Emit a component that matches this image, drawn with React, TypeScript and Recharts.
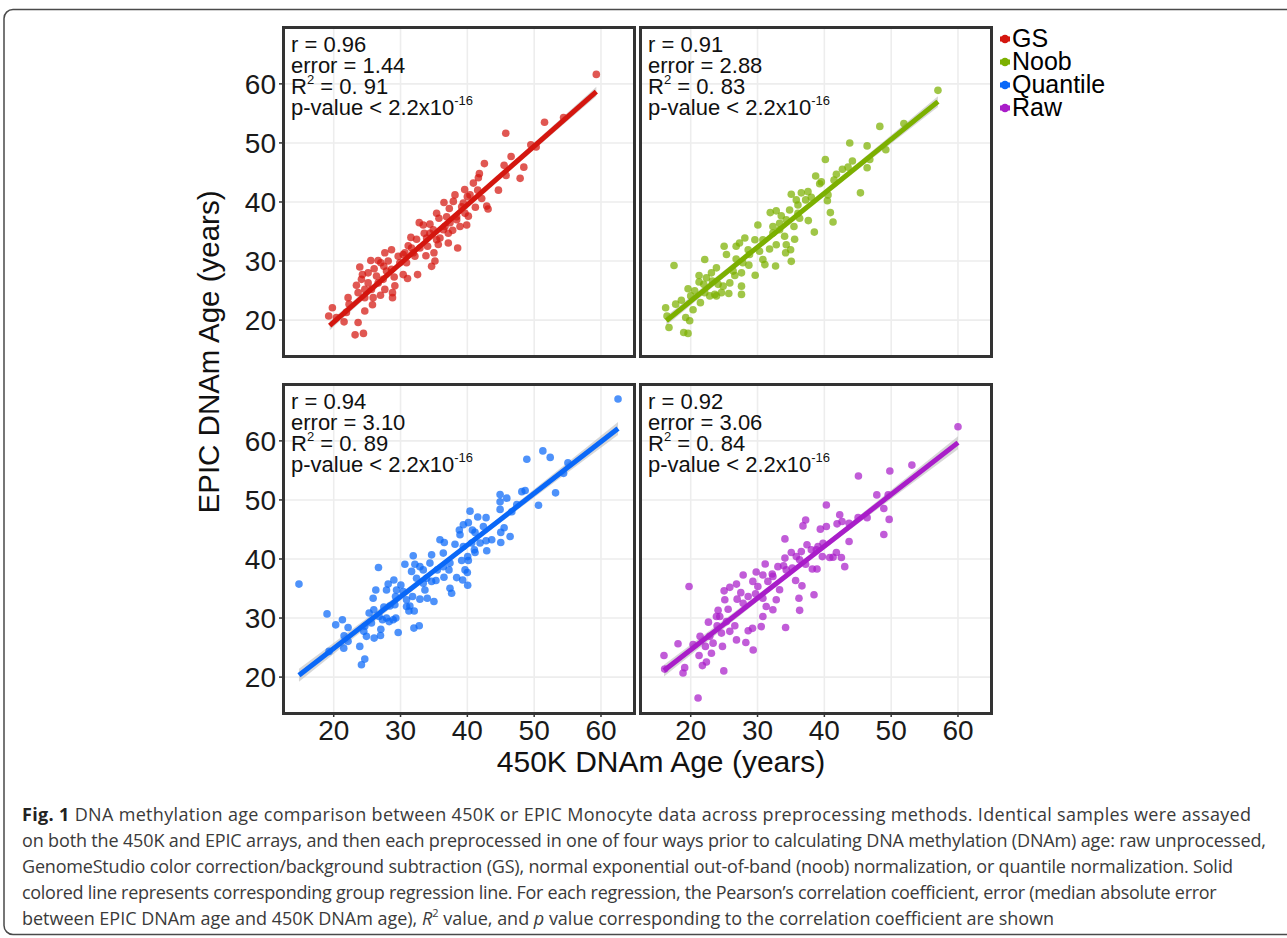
import React from "react";
import { ComposedChart, Scatter, Line, Area, XAxis, YAxis, CartesianGrid } from "recharts";

// axis settings shared by all four facets
const xTicks = [20, 30, 40, 50, 60];
const yTicks = [20, 30, 40, 50, 60];
const xDomain = [12.41, 64.94];
const yDomain = [13.92, 69.63];

const methods = ["GS", "Noob", "Quantile", "Raw"];
const methodColors = ["#d4160f", "#7cb000", "#0a68f8", "#a91dc9"];

const rValues = ["0.96", "0.91", "0.94", "0.92"];
const errorValues = ["1.44", "2.88", "3.10", "3.06"];
const r2Values = ["0. 91", "0. 83", "0. 89", "0. 84"];

// [450K age, EPIC age]
const gsPoints = [
  [59.3, 61.6], [51.55, 53.5], [45.75, 51.65], [54.4, 54.3], [49.5, 49.7], [50.3, 49.3], [46.55, 47.7],
  [42.55, 46.5], [45.5, 46.2], [48.45, 45.9], [47.9, 44.0], [45.8, 44.5], [41.8, 44.8], [41.65, 44.1],
  [40.9, 43.2], [39.6, 42.1], [40.4, 41.2], [41.55, 42.0], [44.65, 42.0], [38.15, 41.2], [36.5, 39.9],
  [37.9, 40.1], [39.4, 39.8], [42.15, 40.6], [41.2, 39.1], [42.9, 39.3], [43.1, 38.8], [37.3, 38.9],
  [35.4, 38.1], [35.75, 37.25], [36.9, 37.5], [38.4, 37.0], [39.65, 38.1], [39.9, 36.1], [32.8, 36.5],
  [34.4, 36.25], [36.65, 35.85], [37.8, 35.2], [34.9, 35.3], [33.55, 34.7], [31.55, 34.0], [32.4, 33.7],
  [33.9, 33.9], [35.9, 33.9], [37.15, 34.7], [31.15, 32.6], [34.05, 32.5], [35.65, 32.8], [37.15, 33.05],
  [38.55, 32.2], [30.4, 31.1], [32.15, 30.8], [33.8, 30.9], [35.0, 31.4], [35.15, 30.0], [34.65, 29.1],
  [32.55, 27.7], [31.05, 27.05], [30.4, 27.7], [29.05, 27.3], [28.65, 28.6], [28.65, 31.9], [27.65, 31.4],
  [28.15, 30.0], [29.15, 25.8], [27.5, 29.1], [26.65, 30.1], [25.55, 30.1], [26.05, 28.7], [26.4, 27.45],
  [25.15, 26.3], [24.15, 26.9], [23.9, 29.0], [23.4, 25.9], [23.65, 24.65], [24.65, 23.8], [25.9, 23.8],
  [25.8, 22.6], [27.0, 24.2], [27.65, 25.2], [28.8, 24.65], [28.8, 23.8], [22.15, 23.8], [22.3, 22.7],
  [21.9, 21.3], [19.8, 22.1], [19.25, 20.7], [20.4, 20.45], [21.55, 19.7], [23.65, 19.6], [24.65, 21.55],
  [23.2, 17.5], [24.45, 17.75], [26.65, 26.3], [27.4, 26.9], [27.9, 28.3], [29.9, 29.7], [30.9, 29.7],
  [31.9, 31.4], [32.9, 32.2], [31.65, 32.2], [34.4, 34.7], [35.4, 33.6], [36.4, 35.3], [38.9, 35.85],
  [37.4, 36.5], [33.4, 36.1], [39.15, 39.2], [40.0, 40.9], [38.4, 37.5], [40.15, 37.6], [30.65, 31.4],
  [29.65, 30.8], [25.65, 25.2], [24.65, 25.2], [24.3, 27.7], [25.15, 28.0], [27.05, 29.7],
];

const noobPoints = [
  [57.0, 58.9], [48.3, 52.8], [51.9, 53.3], [43.8, 50.0], [46.4, 49.5], [49.2, 48.85], [40.15, 47.2],
  [44.2, 46.95], [46.8, 47.2], [42.7, 45.55], [43.55, 45.9], [46.4, 45.8], [38.7, 44.4], [39.3, 43.1],
  [41.45, 43.7], [45.4, 41.55], [40.45, 40.2], [35.05, 41.3], [36.55, 41.55], [37.55, 41.75], [35.8, 40.35],
  [36.05, 39.5], [34.8, 38.65], [31.9, 38.2], [32.8, 38.5], [33.55, 37.65], [34.3, 37.0], [36.3, 37.25],
  [40.9, 38.2], [41.3, 36.6], [37.6, 36.85], [38.5, 34.9], [35.45, 35.85], [32.3, 35.85], [33.3, 35.3],
  [34.05, 34.2], [35.55, 33.7], [34.3, 32.75], [34.95, 31.9], [32.8, 32.75], [31.8, 32.05], [30.05, 36.1],
  [29.6, 33.6], [28.1, 33.9], [27.3, 33.05], [26.8, 32.5], [28.6, 31.9], [30.3, 31.65], [30.8, 30.25],
  [31.1, 29.4], [32.7, 29.15], [34.2, 31.4], [35.05, 29.95], [25.0, 32.5], [25.35, 31.1], [22.1, 30.25],
  [26.8, 30.35], [27.8, 29.7], [28.7, 29.3], [29.65, 27.6], [27.6, 28.0], [26.6, 27.55], [25.85, 26.3],
  [23.85, 28.85], [23.1, 28.0], [22.35, 27.15], [21.25, 27.55], [21.25, 26.45], [21.95, 26.05], [23.25, 26.6],
  [24.1, 26.05], [24.6, 24.65], [25.7, 24.5], [23.6, 24.35], [22.85, 24.1], [21.45, 22.95], [22.1, 24.65],
  [27.6, 25.75], [27.6, 24.35], [20.6, 24.95], [20.0, 24.1], [19.6, 25.3], [18.6, 23.35], [17.75, 22.7],
  [16.25, 22.1], [20.35, 21.75], [19.25, 20.45], [19.85, 19.9], [16.45, 20.7], [16.75, 18.75], [18.95, 17.9],
  [19.6, 17.75], [17.5, 29.25], [23.85, 24.1], [24.85, 25.75], [26.35, 28.3], [28.8, 31.1], [30.8, 33.6],
  [32.3, 34.75], [33.3, 36.4], [36.05, 38.1], [37.2, 40.35], [38.05, 40.8], [39.55, 43.4], [41.8, 44.7],
  [40.55, 41.2],
];

const quantilePoints = [
  [62.55, 67.1], [14.8, 35.75], [51.3, 58.3], [52.4, 57.2], [48.9, 56.9], [55.05, 56.3], [53.2, 51.2],
  [50.65, 49.1], [44.9, 50.9], [45.9, 50.3], [44.9, 49.7], [48.15, 51.4], [48.65, 51.6], [44.9, 48.4],
  [40.4, 48.1], [41.55, 47.1], [42.8, 47.0], [40.15, 46.15], [39.4, 45.8], [38.8, 44.9], [40.75, 44.9],
  [41.15, 44.5], [45.5, 45.3], [45.0, 44.5], [46.4, 43.8], [45.0, 42.8], [42.8, 43.1], [43.65, 43.25],
  [41.9, 42.7], [42.9, 41.4], [41.05, 41.55], [41.15, 41.1], [35.9, 43.25], [36.55, 42.8], [38.15, 42.5],
  [38.9, 44.1], [39.4, 42.1], [40.05, 40.4], [39.15, 39.75], [40.15, 39.75], [39.65, 38.15], [40.0, 37.7],
  [38.4, 36.85], [39.3, 36.45], [40.05, 35.55], [37.4, 35.05], [37.65, 34.2], [37.25, 38.15], [36.5, 36.9],
  [36.4, 41.0], [34.65, 40.7], [34.4, 39.3], [33.4, 38.15], [32.15, 39.1], [31.65, 37.9], [31.9, 40.55],
  [32.4, 36.75], [33.9, 36.75], [34.65, 36.2], [35.3, 36.35], [33.65, 34.75], [34.0, 33.35], [35.0, 32.8],
  [32.9, 33.2], [31.8, 33.65], [30.9, 33.1], [30.4, 34.5], [29.4, 34.75], [30.05, 35.6], [29.0, 36.45],
  [28.15, 35.75], [27.9, 34.75], [29.25, 33.65], [29.15, 32.25], [28.4, 32.05], [27.5, 31.85], [26.8, 30.25],
  [27.3, 29.7], [28.3, 29.4], [28.9, 29.7], [27.05, 28.1], [27.0, 27.05], [25.9, 33.35], [26.3, 34.75],
  [26.7, 38.55], [26.0, 31.4], [25.3, 30.85], [25.65, 29.15], [24.65, 28.6], [24.9, 26.9], [24.5, 27.75],
  [26.05, 26.6], [29.65, 27.55], [31.4, 32.05], [31.25, 31.2], [32.05, 31.2], [32.0, 28.3], [32.8, 28.7],
  [23.9, 25.2], [24.65, 23.05], [24.15, 22.1], [22.15, 28.4], [21.3, 29.7], [20.3, 28.85], [19.0, 30.7],
  [21.55, 27.0], [22.15, 26.05], [21.5, 24.9], [19.3, 24.35], [30.65, 39.1], [32.9, 38.7], [35.5, 38.15],
  [37.4, 39.3], [40.65, 42.7], [42.4, 45.5], [46.65, 48.0], [54.4, 54.5], [47.4, 49.2], [27.9, 30.0],
  [29.3, 30.0], [30.9, 31.95], [33.4, 35.9], [36.4, 38.7],
];

const rawPoints = [
  [60.0, 62.4], [53.1, 55.9], [49.8, 54.9], [45.1, 54.05], [47.85, 50.85], [49.55, 50.85], [48.9, 48.55],
  [49.7, 46.7], [48.9, 44.15], [46.4, 47.0], [45.05, 47.0], [40.3, 49.15], [42.3, 47.5], [41.9, 45.95],
  [42.65, 46.35], [43.7, 46.05], [40.3, 45.5], [39.4, 45.05], [37.2, 46.6], [36.8, 45.6], [34.1, 43.4],
  [43.7, 42.95], [41.8, 41.1], [41.3, 40.3], [42.55, 40.25], [43.05, 38.7], [40.8, 40.25], [39.7, 40.4],
  [39.05, 42.1], [38.05, 41.55], [37.4, 42.4], [36.55, 41.25], [35.8, 40.4], [35.05, 41.1], [34.1, 40.15],
  [33.05, 38.7], [33.9, 38.85], [35.2, 38.45], [35.7, 36.35], [36.65, 35.45], [36.2, 33.35], [36.3, 31.3],
  [38.45, 33.95], [38.9, 38.3], [38.2, 38.3], [37.2, 39.1], [31.15, 39.15], [29.8, 37.8], [30.8, 37.3],
  [32.2, 37.45], [31.55, 36.2], [33.3, 34.8], [32.8, 33.1], [32.3, 31.4], [31.3, 31.95], [30.8, 33.35],
  [29.3, 36.2], [29.7, 34.1], [28.6, 33.65], [27.85, 37.3], [26.85, 35.75], [25.85, 35.2], [25.0, 34.6],
  [25.1, 33.1], [25.6, 31.5], [26.95, 33.2], [27.5, 34.3], [24.1, 31.3], [24.35, 30.25], [23.95, 28.7],
  [22.65, 29.3], [25.35, 29.4], [26.6, 28.7], [25.85, 27.75], [26.85, 26.3], [28.25, 25.85], [28.6, 27.85],
  [29.25, 28.25], [29.35, 24.6], [30.55, 28.55], [30.8, 30.25], [34.2, 28.4], [24.75, 25.2], [23.35, 25.75],
  [23.1, 24.05], [22.2, 25.2], [21.4, 26.9], [20.35, 25.5], [18.1, 25.65], [19.75, 35.35], [21.25, 23.65],
  [21.75, 21.95], [22.35, 22.55], [19.1, 21.6], [18.85, 20.7], [16.0, 23.65], [16.1, 21.35], [24.95, 21.05],
  [21.1, 16.45], [23.85, 30.25], [27.85, 32.5], [30.05, 35.35], [32.3, 37.05], [34.3, 38.15], [36.3, 39.85],
  [22.85, 26.9], [24.6, 27.45], [38.8, 41.55], [39.8, 42.65],
];

// regression line ends
const gsFit = [[19.4, 19.05], [59.3, 58.7]];
const noobFit = [[16.35, 19.9], [57.0, 57.0]];
const quantileFit = [[14.8, 20.3], [62.55, 62.1]];
const rawFit = [[16.0, 21.1], [60.0, 59.7]];

// confidence ribbon [x, low, high]
const gsBand = [[19.4, 18.3, 19.8], [39.35, 38.55, 39.2], [59.3, 57.9, 59.5]];
const noobBand = [[16.35, 19.1, 20.7], [36.7, 38.15, 38.8], [57.0, 56.1, 57.9]];
const quantileBand = [[14.8, 19.2, 21.4], [38.7, 40.9, 41.55], [62.55, 61.0, 63.2]];
const rawBand = [[16.0, 20.1, 22.1], [38.0, 40.05, 40.75], [60.0, 58.6, 60.8]];

const captionLines = [
  "DNA methylation age comparison between 450K or EPIC Monocyte data across preprocessing methods. Identical samples were assayed",
  "on both the 450K and EPIC arrays, and then each preprocessed in one of four ways prior to calculating DNA methylation (DNAm) age: raw unprocessed,",
  "GenomeStudio color correction/background subtraction (GS), normal exponential out-of-band (noob) normalization, or quantile normalization. Solid",
  "colored line represents corresponding group regression line. For each regression, the Pearson\u2019s correlation coefficient, error (median absolute error",
];
// per-line tracking so each line ends where it does in the figure
const captionSpacing = [0.33, -0.15, -0.19, -0.29, -0.01];

const FONT = "'Liberation Sans', Arial, sans-serif";
const CAP_FONT = "'Open Sans', sans-serif";
const PLOT_W = 351;
const PLOT_H = 329;
const Y_AXIS_W = 62;
const X_AXIS_H = 50;

const toXY = (rows: number[][]) => rows.map(([x, y]) => ({ x, y }));
const toBand = (rows: number[][]) => rows.map(([x, lo, hi]) => ({ x, band: [lo, hi] }));

function Panel({ idx, points, fit, band, left, top, showX, showY }: any) {
  const color = methodColors[idx];
  const chartLeft = left - (showY ? Y_AXIS_W : 0);
  const w = PLOT_W + (showY ? Y_AXIS_W : 0);
  const h = PLOT_H + (showX ? X_AXIS_H : 0);
  const tickStyle = { fill: "#1a1a1a", fontSize: 28, fontFamily: FONT };
  const supStyle = { fontSize: 13, verticalAlign: 10, lineHeight: 0 };

  return (
    <>
      <div style={{ position: "absolute", left: chartLeft, top }}>
        <ComposedChart width={w} height={h} margin={{ top: 0, right: 0, bottom: 0, left: 0 }}>
          <CartesianGrid
            stroke="#ededed"
            strokeWidth={1.6}
            verticalValues={xTicks}
            horizontalValues={yTicks}
          />
          <XAxis
            type="number"
            dataKey="x"
            domain={xDomain}
            ticks={xTicks}
            allowDataOverflow
            hide={!showX}
            height={X_AXIS_H}
            axisLine={false}
            tickSize={4}
            tickMargin={3}
            tickLine={{ stroke: "#333", strokeWidth: 1.5 }}
            tick={tickStyle}
          />
          <YAxis
            type="number"
            dataKey="y"
            domain={yDomain}
            ticks={yTicks}
            allowDataOverflow
            hide={!showY}
            width={Y_AXIS_W}
            axisLine={false}
            tickSize={4}
            tickMargin={3}
            tickLine={{ stroke: "#333", strokeWidth: 1.5 }}
            tick={tickStyle}
          />
          <Scatter
            data={toXY(points)}
            dataKey="y"
            isAnimationActive={false}
            shape={(p: any) => <circle cx={p.cx} cy={p.cy} r={3.8} fill={color} fillOpacity={0.72} />}
          />
          <Area
            data={toBand(band)}
            dataKey="band"
            type="linear"
            stroke="none"
            fill="#bdbdbd"
            fillOpacity={0.6}
            isAnimationActive={false}
          />
          <Line
            data={toXY(fit)}
            dataKey="y"
            type="linear"
            stroke={color}
            strokeWidth={5}
            dot={false}
            isAnimationActive={false}
          />
        </ComposedChart>
      </div>
      <div
        style={{
          position: "absolute",
          left: left - 1.5,
          top: top - 1.5,
          width: PLOT_W + 3,
          height: PLOT_H + 3,
          border: "3px solid #333",
          boxSizing: "border-box",
          pointerEvents: "none",
        }}
      />
      <div
        style={{
          position: "absolute",
          left: left + 8,
          top: top + 7,
          fontFamily: FONT,
          fontSize: 22,
          lineHeight: "21px",
          color: "#111",
          whiteSpace: "nowrap",
        }}
      >
        <div>r = {rValues[idx]}</div>
        <div>error = {errorValues[idx]}</div>
        <div>
          R<sup style={supStyle}>2</sup> = {r2Values[idx]}
        </div>
        <div>
          p-value &lt; 2.2x10<sup style={supStyle}>-16</sup>
        </div>
      </div>
    </>
  );
}

function LegendBox() {
  return (
    <div style={{ position: "absolute", left: 999, top: 27, fontFamily: FONT, fontSize: 25, lineHeight: "23px" }}>
      {methods.map((m, i) => (
        <div key={m} style={{ display: "flex", alignItems: "center", height: 23 }}>
          <svg width={12} height={12} style={{ marginRight: 1 }}>
            <line x1={1} y1={6} x2={11} y2={6} stroke={methodColors[i]} strokeWidth={5} />
            <circle cx={6} cy={6} r={4.2} fill={methodColors[i]} />
          </svg>
          <span>{m}</span>
        </div>
      ))}
    </div>
  );
}

export default function App() {
  const capX = 22;
  const capTop = 801;

  return (
    <div style={{ position: "absolute", left: 0, top: 0, width: 1287, height: 938, background: "#fff", overflow: "hidden" }}>
      <svg width={1287} height={938} style={{ position: "absolute", left: 0, top: 0 }}>
        <rect x={4} y={9.5} width={1320} height={925} rx={9} fill="none" stroke="#4a4a4a" strokeWidth={1.5} />
        <text x={661} y={772} textAnchor="middle" fontSize={30} fontFamily={FONT} fill="#111">
          450K DNAm Age (years)
        </text>
        <text transform="translate(219,352) rotate(-90)" textAnchor="middle" fontSize={29.5} fontFamily={FONT} fill="#111">
          EPIC DNAm Age (years)
        </text>
      </svg>
      <div
        style={{
          position: "absolute",
          left: capX,
          top: capTop,
          fontFamily: CAP_FONT,
          fontSize: 18,
          lineHeight: "26px",
          color: "#3a3a3a",
          whiteSpace: "nowrap",
        }}
      >
        <div style={{ letterSpacing: captionSpacing[0] }}>
          <b style={{ color: "#222" }}>Fig. 1</b> {captionLines[0]}
        </div>
        {captionLines.slice(1).map((line, i) => (
          <div key={i} style={{ letterSpacing: captionSpacing[i + 1] }}>
            {line}
          </div>
        ))}
        <div style={{ letterSpacing: captionSpacing[4] }}>
          between EPIC DNAm age and 450K DNAm age), <i>R</i>
          <sup style={{ fontSize: 11, verticalAlign: 8, lineHeight: 0 }}>2</sup> value, and <i>p</i> value
          corresponding to the correlation coefficient are shown
        </div>
      </div>
      <Panel idx={0} points={gsPoints} fit={gsFit} band={gsBand} left={283} top={27} showX={false} showY />
      <Panel idx={1} points={noobPoints} fit={noobFit} band={noobBand} left={640} top={27} showX={false} showY={false} />
      <Panel idx={2} points={quantilePoints} fit={quantileFit} band={quantileBand} left={283} top={384} showX showY />
      <Panel idx={3} points={rawPoints} fit={rawFit} band={rawBand} left={640} top={384} showX showY={false} />
      <LegendBox />
    </div>
  );
}
